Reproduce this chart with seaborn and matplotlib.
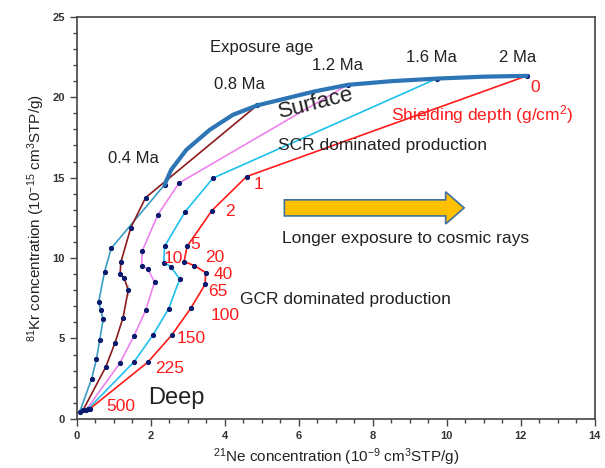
import matplotlib
matplotlib.use("Agg")
import matplotlib.pyplot as plt
from matplotlib.patches import FancyArrow
from matplotlib.ticker import MultipleLocator
import seaborn as sns
import pandas as pd

# depth profiles (21Ne, 81Kr); first point = surface, then depths 1..500 g/cm2
ne_04 = [2.37, 0.93, 0.75, 0.59, 0.59, 0.65, 0.71, 0.71, 0.62, 0.53, 0.40, 0.08]
kr_04 = [14.55, 10.61, 9.16, 7.61, 6.94, 6.74, 6.47, 5.91, 4.91, 3.71, 2.49, 0.45]
ne_08 = [4.87, 1.86, 1.46, 1.19, 1.17, 1.28, 1.39, 1.39, 1.25, 1.03, 0.78, 0.17]
kr_08 = [19.49, 13.76, 11.90, 9.74, 9.00, 8.75, 8.37, 7.65, 6.30, 4.71, 3.22, 0.55]
ne_12 = [7.32, 2.76, 2.19, 1.77, 1.75, 1.92, 2.10, 2.10, 1.86, 1.55, 1.16, 0.26]
kr_12 = [20.77, 14.66, 12.69, 10.45, 9.53, 9.31, 8.89, 8.13, 6.74, 5.18, 3.46, 0.58]
ne_16 = [9.73, 3.68, 2.93, 2.37, 2.35, 2.54, 2.78, 2.78, 2.48, 2.06, 1.54, 0.30]
kr_16 = [21.16, 14.97, 12.89, 10.72, 9.72, 9.47, 9.06, 8.33, 6.84, 5.22, 3.53, 0.60]
ne_20 = [12.16, 4.59, 3.65, 2.98, 2.90, 3.18, 3.48, 3.47, 3.08, 2.57, 1.92, 0.35]
kr_20 = [21.33, 15.07, 12.95, 10.72, 9.78, 9.53, 9.10, 8.37, 6.88, 5.22, 3.53, 0.62]

# surface curve
surf_ne = [2.37, 2.55, 2.96, 3.59, 4.22, 4.87, 5.48, 6.40, 7.32, 8.50, 9.73, 11.0, 12.16]
surf_kr = [14.55, 15.49, 16.73, 17.97, 18.91, 19.49, 19.83, 20.35, 20.77, 21.0, 21.16, 21.28, 21.33]

depth_labels = ["0", "1", "2", "5", "10", "20", "40", "65", "100", "150", "225", "500"]

sns.set_style("white")
plt.rcParams['font.family'] = ['Liberation Sans', 'DejaVu Sans']
plt.rcParams['mathtext.default'] = 'regular'

fig = plt.figure(figsize=(6.05, 4.68), dpi=100)
ax = fig.add_axes([0.127, 0.105, 0.856, 0.859])

series = [(ne_04, kr_04, "#3a9cc4"), (ne_08, kr_08, "#8b1a1a"), (ne_12, kr_12, "#ee82ee"),
          (ne_16, kr_16, "#1ec0ee"), (ne_20, kr_20, "#ff1a1a")]
for ne, kr, col in series:
    df = pd.DataFrame({"ne": ne, "kr": kr})
    sns.lineplot(data=df, x="ne", y="kr", sort=False, color=col, lw=1.2, ax=ax,
                 marker="o", markersize=3, markerfacecolor="#0a1a6e", markeredgecolor="#0a1a6e")

sns.lineplot(x=surf_ne, y=surf_kr, sort=False, color="#2e75b6", lw=3, ax=ax)

# labels along the 2 Ma curve
red_pos = {"0": (12.38, 20.6), "1": (4.9, 14.6), "2": (4.15, 12.9), "5": (3.2, 10.85),
           "10": (2.62, 9.95), "20": (3.72, 10.05), "40": (3.95, 8.95), "65": (3.8, 7.95),
           "100": (4.0, 6.4), "150": (3.1, 5.0), "225": (2.5, 3.15), "500": (1.2, 0.75)}
for lab in depth_labels:
    px, py = red_pos[lab]
    ax.text(px, py, lab, color="#ff1a1a", fontsize=12.5, ha="center", va="center")

ages = [("0.4 Ma", 1.54, 16.2), ("0.8 Ma", 4.40, 20.77), ("1.2 Ma", 7.04, 22.0),
        ("1.6 Ma", 9.58, 22.5), ("2 Ma", 11.92, 22.5)]
for t, px, py in ages:
    ax.text(px, py, t, fontsize=12, ha="center", va="center", color="#222222")

ax.text(4.99, 23.07, "Exposure age", fontsize=12, ha="center", va="center", color="#222222")
ax.text(6.47, 19.6, "Surface", fontsize=16, ha="center", va="center", rotation=14, color="#222222")
ax.text(10.95, 18.9, "Shielding depth (g/cm$^2$)", fontsize=12.5, ha="center", va="center", color="#ff1a1a")
ax.text(8.25, 17.0, "SCR dominated production", fontsize=12.5, ha="center", va="center", color="#222222")
ax.text(8.9, 11.2, "Longer exposure to cosmic rays", fontsize=12.5, ha="center", va="center", color="#222222")
ax.text(7.26, 7.4, "GCR dominated production", fontsize=12.5, ha="center", va="center", color="#222222")
ax.text(2.69, 1.29, "Deep", fontsize=17, ha="center", va="center", color="#222222")

ax.add_patch(FancyArrow(5.61, 13.12, 4.86, 0, width=1.0, head_width=2.0, head_length=0.5,
                        length_includes_head=True, facecolor="#ffc000", edgecolor="#41719c", lw=1.2))

ax.set_xlim(0, 14)
ax.set_ylim(0, 25)
ax.xaxis.set_major_locator(MultipleLocator(2))
ax.xaxis.set_minor_locator(MultipleLocator(0.5))
ax.yaxis.set_major_locator(MultipleLocator(5))
ax.yaxis.set_minor_locator(MultipleLocator(1))
ax.tick_params(which="both", direction="out", color="#444444", width=1)
ax.tick_params(which="major", length=5, labelsize=8)
ax.tick_params(which="minor", length=3)
ax.tick_params(axis="both", which="both", bottom=True, left=True)
for lab in ax.get_xticklabels() + ax.get_yticklabels():
    lab.set_fontweight("bold")
    lab.set_color("#333333")
for s in ax.spines.values():
    s.set_color("#444444")
    s.set_linewidth(1.2)

ax.set_xlabel("$^{21}$Ne concentration (10$^{-9}$ cm$^{3}$STP/g)", fontsize=11, color="#222222")
ax.set_ylabel("$^{81}$Kr concentration (10$^{-15}$ cm$^{3}$STP/g)", fontsize=11, color="#222222")

fig.savefig("out.png", dpi=100)
